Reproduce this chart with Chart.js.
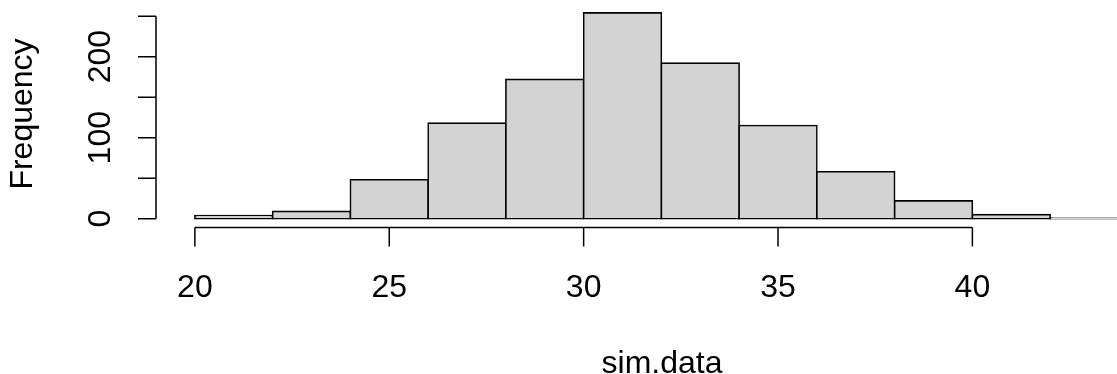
<!DOCTYPE html>
<html>
<head>
<meta charset="utf-8">
<script src="https://cdn.jsdelivr.net/npm/chart.js@4"></script>
<style>
  html, body { margin: 0; padding: 0; background: #fff; }
  #wrap { width: 1117px; height: 374px; }
</style>
</head>
<body>
<div id="wrap"><canvas id="hist" width="1117" height="374"></canvas></div>
<script>
// ヒストグラムのデータ (sim.data, 幅2の階級)
const binStarts = [20, 22, 24, 26, 28, 30, 32, 34, 36, 38, 40, 42];
const counts = [4, 9, 48, 118, 172, 254, 192, 115, 58, 22, 5, 1];
const binWidth = 2;

// 軸の目盛り
const xTicks = [20, 25, 30, 35, 40];
const yTicks = [0, 50, 100, 150, 200, 250];
const yTickLabels = [0, 100, 200];

const xTitle = 'sim.data';
const yTitle = 'Frequency';

const FONT = '32px "Liberation Sans", Arial, sans-serif';

const points = binStarts.map((b, i) => ({ x: b + binWidth / 2, y: counts[i] }));

// R風の軸を描くプラグイン
const rAxes = {
    id: 'rAxes',
    afterDraw(chart) {
        const ctx = chart.ctx;
        const xs = chart.scales.x;
        const ys = chart.scales.y;
        const area = chart.chartArea;
        ctx.save();
        ctx.strokeStyle = '#000';
        ctx.fillStyle = '#000';
        ctx.lineWidth = 1.5;
        ctx.font = FONT;

        // x軸
        const axisY = area.bottom + 0.5;
        const x0 = xs.getPixelForValue(xTicks[0]);
        const x1 = xs.getPixelForValue(xTicks[xTicks.length - 1]);
        ctx.beginPath();
        ctx.moveTo(x0, axisY);
        ctx.lineTo(x1, axisY);
        xTicks.forEach(v => {
            const px = xs.getPixelForValue(v);
            ctx.moveTo(px, axisY);
            ctx.lineTo(px, axisY + 19);
        });
        ctx.stroke();
        ctx.textAlign = 'center';
        ctx.textBaseline = 'alphabetic';
        xTicks.forEach(v => {
            ctx.fillText(String(v), xs.getPixelForValue(v), 297);
        });

        // y軸
        const axisX = area.left;
        ctx.beginPath();
        ctx.moveTo(axisX, ys.getPixelForValue(yTicks[0]));
        ctx.lineTo(axisX, ys.getPixelForValue(yTicks[yTicks.length - 1]));
        yTicks.forEach(v => {
            const py = ys.getPixelForValue(v);
            ctx.moveTo(axisX, py);
            ctx.lineTo(axisX - 18, py);
        });
        ctx.stroke();
        yTickLabels.forEach(v => {
            ctx.save();
            ctx.translate(110, ys.getPixelForValue(v));
            ctx.rotate(-Math.PI / 2);
            ctx.fillText(String(v), 0, 0);
            ctx.restore();
        });

        // 軸タイトル
        ctx.fillText(xTitle, 662, 373);
        ctx.save();
        ctx.translate(32, 114);
        ctx.rotate(-Math.PI / 2);
        ctx.fillText(yTitle, 0, 0);
        ctx.restore();

        ctx.restore();
    }
};

new Chart(document.getElementById('hist'), {
    type: 'bar',
    data: {
        datasets: [{
            data: points,
            backgroundColor: '#D3D3D3',
            borderColor: '#000000',
            borderWidth: 1.6,
            borderSkipped: false,
            inflateAmount: 0.8, // 枠線を境界線の中心に揃える (Rのrect風)
            barPercentage: 1,
            categoryPercentage: 1
        }]
    },
    options: {
        responsive: false,
        animation: false,
        layout: { padding: { left: 156, right: 0, top: 3, bottom: 147 } },
        plugins: {
            legend: { display: false },
            tooltip: { enabled: false }
        },
        scales: {
            x: {
                type: 'linear', min: 19, max: 43.72, offset: false, display: false,
                // 棒の幅を階級幅に合わせるため、目盛りを階級の境界に置く
                afterBuildTicks: s => { s.ticks = binStarts.map(v => ({ value: v })); }
            },
            y: { type: 'linear', min: -10.24, max: 266.24, display: false }
        }
    },
    plugins: [rAxes]
});
</script>
</body>
</html>
